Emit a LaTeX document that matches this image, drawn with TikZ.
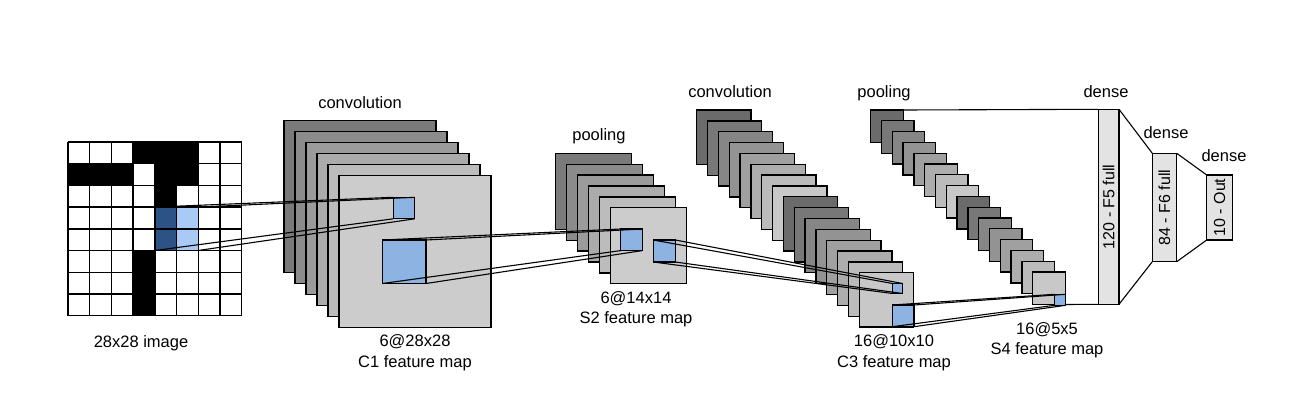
\documentclass[tikz,border=0pt]{standalone}
\usepackage{fontspec}
\setmainfont{Liberation Sans}
\usetikzlibrary{positioning}

\definecolor{patchblue}{HTML}{8DB3E2}
\definecolor{kerndark}{HTML}{2D5285}
\definecolor{kernlight}{HTML}{A8CAF4}

\tikzset{
  fmap/.style={draw, line width=1.3pt, inner sep=0pt, outer sep=0pt, anchor=north west,
    minimum width=#1, minimum height=#1},
  patch/.style={fmap=#1, fill=patchblue},
  fcbox/.style={draw, line width=1.3pt, fill=black!11, inner sep=0pt, outer sep=0pt, anchor=north west},
  lbl/.style={font=\fontsize{16.5}{20.5}\selectfont, align=center, inner sep=0pt},
  fctext/.style={font=\fontsize{16}{19}\selectfont, inner sep=0pt, rotate=90},
  link/.style={line width=1.1pt},
}

\begin{document}
\begin{tikzpicture}[x=1pt,y=-1pt]
  \useasboundingbox (0,0) rectangle (1312,412);

  % input image, 8x8 cells
  \foreach \c/\r in {3/0,4/0,5/0,0/1,1/1,2/1,4/1,5/1,4/2,3/5,3/6,3/7}
    \fill (68+21.7*\c,142+21.7*\r) rectangle ++(21.7,21.7);
  \fill[kerndark] (68+21.7*4,142+21.7*3) rectangle ++(21.7,43.4);
  \fill[kernlight] (68+21.7*5,142+21.7*3) rectangle ++(21.7,43.4);
  \foreach \k in {0,...,8} {
    \draw[line width=1.4pt] (68+21.7*\k,142) -- (68+21.7*\k,315.6);
    \draw[line width=1.4pt] (68,142+21.7*\k) -- (241.6,142+21.7*\k);
  }
  \node[fmap=43.4pt, draw=none] (kern) at (68+21.7*4,142+21.7*3) {};
  \node[lbl, anchor=base] (imglbl) at (141,347) {28x28 image};

  % C1
  \foreach \i [evaluate=\i as \g using 52-6.4*\i] in {0,...,5}
    \node[fmap=152pt, fill=black!\g] (c1-\i) at (284+11*\i,120.7+10.9*\i) {};
  \node[patch=21.5pt] (c1s) at (393.3,197.3) {};
  \node[patch=43.5pt] (c1b) at (382.5,240) {};
  \node[lbl, anchor=base] (c1top) at (360,108) {convolution};
  \node[lbl, anchor=base] (c1lbl) at (415,367) {6@28x28\\C1 feature map};

  % S2
  \foreach \i [evaluate=\i as \g using 52-6.4*\i] in {0,...,5}
    \node[fmap=76pt, fill=black!\g] (s2-\i) at (555.7+10.9*\i,153.3+10.9*\i) {};
  \node[patch=21.6pt] (s2s) at (620.7,229) {};
  \node[patch=22pt] (s2b) at (653.3,240) {};
  \node[lbl, anchor=base] (s2top) at (599,140) {pooling};
  \node[lbl, anchor=base] (s2lbl) at (636,323.5) {6@14x14\\S2 feature map};

  % C3
  \foreach \i [evaluate=\i as \g using {58-5.2*mod(\i,8)}] in {0,...,15}
    \node[fmap=54.3pt, fill=black!\g] (c3-\i) at (696.7+10.84*\i,110+10.85*\i) {};
  \node[patch=10pt] (c3s) at (892.5,283.5) {};
  \node[patch=21.7pt] (c3b) at (892.3,305) {};
  \node[lbl, anchor=base] (c3top) at (730,97.7) {convolution};
  \node[lbl, anchor=base] (c3lbl) at (894,367) {16@10x10\\C3 feature map};

  % S4
  \foreach \i [evaluate=\i as \g using {58-5.2*mod(\i,8)}] in {0,...,15}
    \node[fmap=32.5pt, fill=black!\g] (s4-\i) at (870.7+10.8*\i,110+10.8*\i) {};
  \node[patch=11pt] (s4s) at (1054.7,294.3) {};
  \node[lbl, anchor=base] (s4top) at (884,97.7) {pooling};
  \node[lbl, anchor=base] (s4lbl) at (1047,354.5) {16@5x5\\S4 feature map};

  % dense layers
  \node[fcbox, minimum width=20.7pt, minimum height=195pt] (f5) at (1098.3,109.3) {};
  \node[fctext] at (f5) {120 - F5 full};
  \node[fcbox, minimum width=24.4pt, minimum height=108.4pt] (f6) at (1152.3,153.3) {};
  \node[fctext] at (f6) {84 - F6 full};
  \node[fcbox, minimum width=25.6pt, minimum height=65pt] (out) at (1206.7,175) {};
  \node[fctext] at (out) {10 - Out};
  \node[lbl, anchor=base] (f5top) at (1106,97) {dense};
  \node[lbl, anchor=base] (f6top) at (1166,138.3) {dense};
  \node[lbl, anchor=base] (outtop) at (1224,161.7) {dense};

  % receptive field lines
  \foreach \a in {north west,north east,south west,south east} {
    \draw[link] (kern.\a) -- (c1s.\a);
    \draw[link] (c1b.\a) -- (s2s.\a);
    \draw[link] (s2b.\a) -- (c3s.\a);
    \draw[link] (c3b.\a) -- (s4s.\a);
  }
  \draw[link] (s4-0.north east) -- (f5.north west);
  \draw[link] (s4-15.south east) -- (f5.south west);
  \draw[link] (f5.north east) -- (f6.north west);
  \draw[link] (f5.south east) -- (f6.south west);
  \draw[link] (f6.north east) -- (out.north west);
  \draw[link] (f6.south east) -- (out.south west);
\end{tikzpicture}
\end{document}
